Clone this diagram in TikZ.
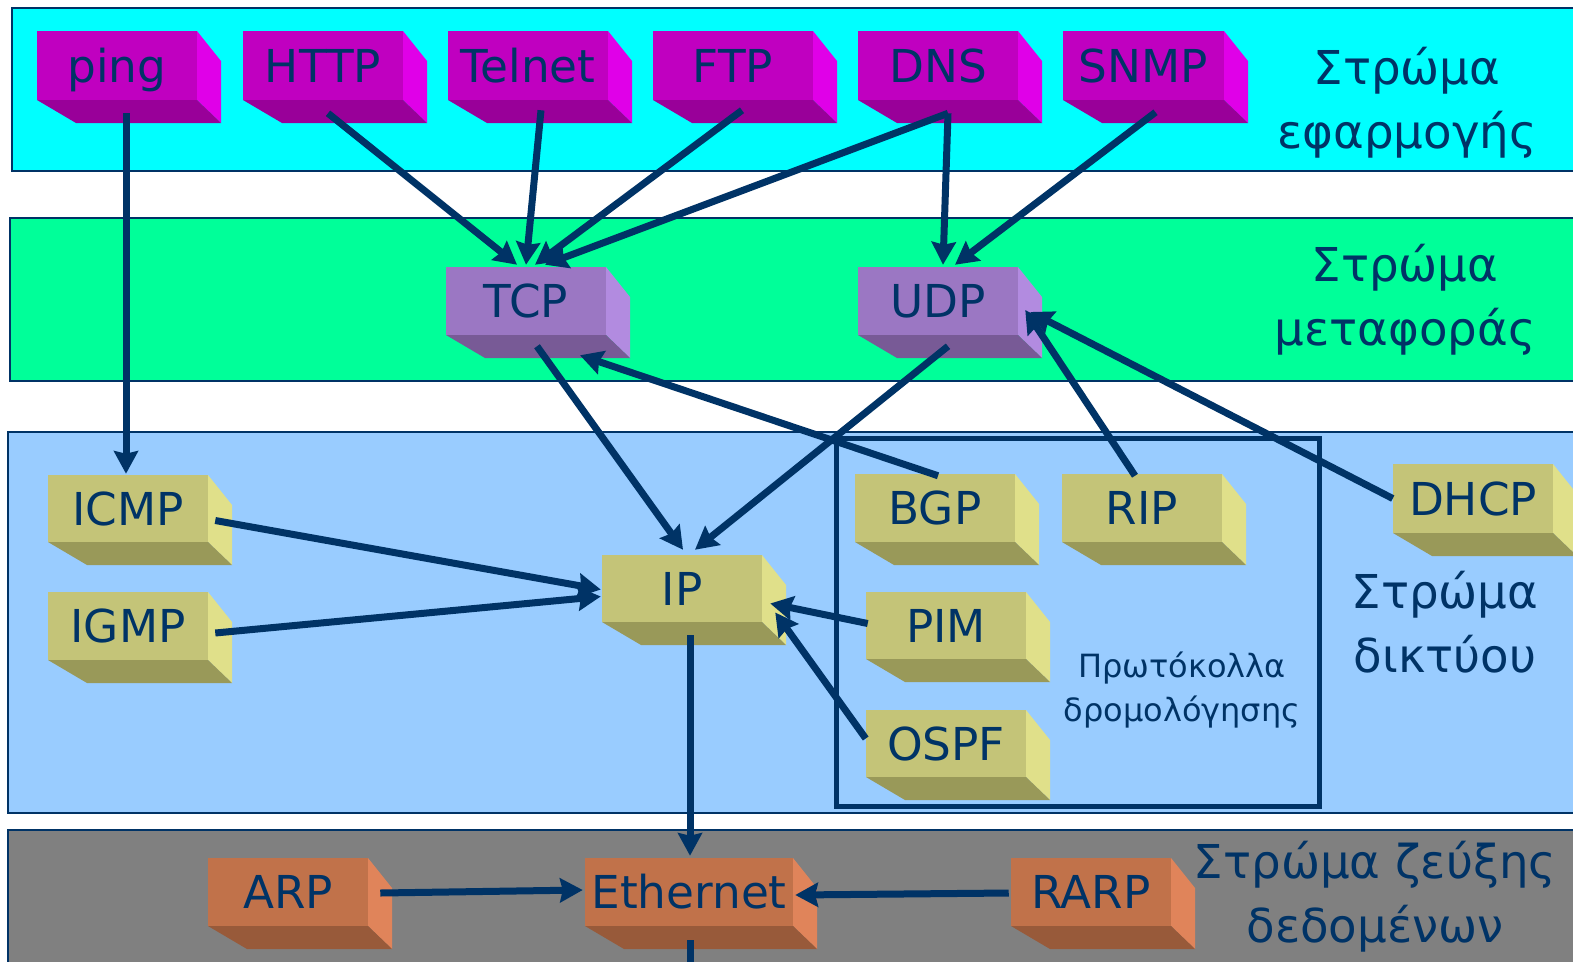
\documentclass[tikz,border=0pt]{standalone}
\usepackage{fontspec}
\setmainfont{DejaVu Sans}
\usetikzlibrary{arrows.meta,calc}
\definecolor{navy}{HTML}{003366}
\definecolor{appbg}{HTML}{00FFFF}
\definecolor{trbg}{HTML}{00FF99}
\definecolor{netbg}{HTML}{99CCFF}
\definecolor{dlbg}{HTML}{808080}
\definecolor{magfront}{HTML}{C000C0}
\definecolor{magside}{HTML}{E000E8}
\definecolor{magbot}{HTML}{990099}
\definecolor{purfront}{HTML}{9B77C3}
\definecolor{purside}{HTML}{B28BE0}
\definecolor{purbot}{HTML}{785A96}
\definecolor{olvfront}{HTML}{C4C478}
\definecolor{olvside}{HTML}{E0E08A}
\definecolor{olvbot}{HTML}{999959}
\definecolor{orgfront}{HTML}{C1724A}
\definecolor{orgside}{HTML}{E0845A}
\definecolor{orgbot}{HTML}{985A3A}
\newcommand\pbox[7]{%
  \fill[#7side] (#4,#3) -- (#4+24,#3+30) -- (#4+24,#5+23) -- (#4,#5) -- cycle;
  \fill[#7bot] (#2,#5) -- (#2+39,#5+23) -- (#4+24,#5+23) -- (#4,#5) -- cycle;
  \node[boxnode, fill=#7front, minimum width={(#4-#2)*0.75pt}, minimum height={(#5-#3)*0.75pt}] (#1) at ({(#2+#4)/2},{(#3+#5)/2}) {#6};
}
\begin{document}
\begin{tikzpicture}[x=0.75pt,y=-0.75pt,
  band/.style={draw=navy, line width=1.4pt},
  boxnode/.style={inner sep=0pt, text=navy, text height=25pt, text depth=0pt, font=\fontsize{34}{40}\selectfont},
  arr/.style={draw=navy, line width=5.25pt, -{Stealth[length=17pt,width=18pt,inset=2pt]}},
  plain/.style={draw=navy, line width=5.25pt},
  layerlbl/.style={text=navy, align=center, font=\fontsize{35}{48}\selectfont},
  routelbl/.style={text=navy, align=center, font=\fontsize{24}{33}\selectfont}]
\useasboundingbox (0,0) rectangle (1573,961);
\clip (0,0) rectangle (1573,961);
% bands
\path[band, fill=appbg] (12,8) rectangle (1590,171);
\path[band, fill=trbg] (10,218) rectangle (1590,381);
\path[band, fill=netbg] (8,432) rectangle (1590,813);
\path[band, fill=dlbg] (8,830) rectangle (1590,975);
% routing frame
\draw[navy, line width=3.75pt] (836,438) rectangle (1319,806);
% application boxes
\pbox{ping}{37}{31}{197}{100}{ping}{mag}
\pbox{http}{243}{31}{403}{100}{HTTP}{mag}
\pbox{telnet}{448}{31}{608}{100}{Telnet}{mag}
\pbox{ftp}{653}{31}{813}{100}{FTP}{mag}
\pbox{dns}{858}{31}{1018}{100}{DNS}{mag}
\pbox{snmp}{1063}{31}{1224}{100}{SNMP}{mag}
% transport
\pbox{tcp}{446}{267}{606}{335}{TCP}{pur}
\pbox{udp}{858}{267}{1018}{335}{UDP}{pur}
% network
\pbox{icmp}{48}{475}{208}{542}{ICMP}{olv}
\pbox{igmp}{48}{592}{208}{660}{IGMP}{olv}
\pbox{ip}{602}{555}{762}{622}{IP}{olv}
\pbox{bgp}{855}{474}{1015}{542}{BGP}{olv}
\pbox{rip}{1062}{474}{1222}{542}{RIP}{olv}
\pbox{dhcp}{1393}{464}{1553}{533}{DHCP}{olv}
\pbox{pim}{866}{592}{1026}{659}{PIM}{olv}
\pbox{ospf}{866}{710}{1026}{777}{OSPF}{olv}
% data link
\pbox{arp}{208}{858}{368}{926}{ARP}{org}
\pbox{eth}{585}{858}{793}{926}{Ethernet}{org}
\pbox{rarp}{1011}{858}{1171}{926}{RARP}{org}
% labels
\node[layerlbl] (lapp) at (1407,103) {Στρώμα\\εφαρμογής};
\node[layerlbl] (ltr) at (1405,300) {Στρώμα\\μεταφοράς};
\node[layerlbl] (lnet) at (1445,622) {Στρώμα\\δικτύου};
\node[layerlbl] (ldl) at (1375,897) {Στρώμα ζεύξης\\δεδομένων};
\node[routelbl] (lroute) at (1182,690) {Πρωτόκολλα\\δρομολόγησης};
% arrows
\draw[arr] ($(ping.south)+(9,13)$) -- ($(icmp.north)+(-2,-1)$);
\draw[arr] ($(http.south)+(5,13)$) -- ($(tcp.north)+(-9,-2)$);
\draw[arr] ($(telnet.south)+(13,10)$) -- ($(tcp.north)+(0,-2)$);
\draw[arr] ($(ftp.south)+(9,10)$) -- ($(tcp.north)+(9,-2)$);
\draw[arr] ($(dns.south)+(10,13)$) -- ($(tcp.north)+(19,-2)$);
\draw[arr] ($(dns.south)+(10,13)$) -- ($(udp.north)+(5,-2)$);
\draw[arr] ($(snmp.south)+(12,12)$) -- ($(udp.north)+(17,-2)$);
\draw[arr] ($(tcp.south)+(11,11)$) -- ($(ip.north)+(1,-5)$);
\draw[arr] ($(udp.south)+(10,11)$) -- ($(ip.north)+(13,-5)$);
\draw[arr] ($(bgp.north)+(3,2)$) -- ($(tcp.south)+(54,20)$);
\draw[arr] ($(rip.north)+(-7,2)$) -- ($(udp.east)+(7,9)$);
\draw[arr] (dhcp.west) -- ($(udp.east)+(12,11)$);
\draw[arr] ($(icmp.east)+(7,12)$) -- ($(ip.west)+(-1,1)$);
\draw[arr] ($(igmp.east)+(7,7)$) -- ($(ip.west)+(-1,8)$);
\draw[arr] ($(pim.west)+(2,-2)$) -- ($(ip.east)+(8,15)$);
\draw[arr] ($(ospf.west)+(0,-5)$) -- ($(ip.east)+(13,24)$);
\draw[arr] ($(ip.south)+(8,13)$) -- ($(eth.north)+(1,-2)$);
\draw[arr] ($(arp.east)+(12,1)$) -- ($(eth.west)+(-2,-2)$);
\draw[arr] ($(rarp.west)+(-2,1)$) -- ($(eth.east)+(2,3)$);
\coordinate (ethout) at (690,975);
\draw[plain] ($(eth.south)+(1,14)$) -- (ethout);
\end{tikzpicture}
\end{document}
